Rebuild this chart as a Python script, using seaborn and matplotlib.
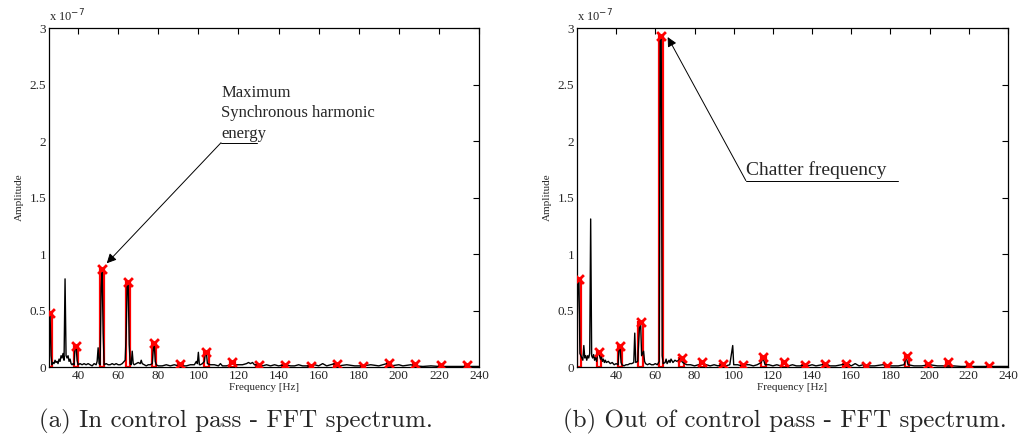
import numpy as np
import pandas as pd
import matplotlib
matplotlib.use("Agg")
import matplotlib.pyplot as plt
from matplotlib.ticker import FuncFormatter
import seaborn as sns

# ---------------- data (amplitudes in units of 1e-7) ----------------
left_freq = [25.5, 26, 26.5, 27, 27.5, 28, 28.5, 29, 29.5, 30, 30.5, 31, 31.5, 32, 32.5, 33, 33.5, 34, 34.5,
             35, 35.5, 36, 36.5, 37, 37.5, 38, 38.5, 39, 39.5, 40, 41, 42, 43, 44, 45, 46, 47, 48, 49, 49.5, 50,
             50.5, 51, 51.5, 52, 52.5, 53, 54, 55, 56, 57, 58, 59, 60, 61, 62, 63, 63.5, 64, 64.5, 65, 65.5, 66,
             66.5, 67, 67.5, 68, 69, 70, 71, 71.5, 72, 73, 74, 75, 76, 77, 77.5, 78, 78.5, 79, 80, 82, 84, 86,
             88, 90, 91, 92, 94, 96, 98, 99, 99.5, 100, 100.5, 101, 102, 103, 103.5, 104, 104.5, 106, 108, 110,
             111, 112, 114, 116, 117, 118, 120, 122, 124, 125, 126, 127, 128, 130, 132, 134, 136, 138, 140, 143,
             146, 148, 150, 152, 155, 158, 160, 162, 164, 166, 168, 170, 174, 178, 182, 186, 190, 194, 196, 200,
             202, 206, 208, 212, 216, 220, 226, 232, 240]
left_amp = [0.45, 0.48, 0.1, 0.02, 0.04, 0.03, 0.06, 0.04, 0.05, 0.03, 0.07, 0.05, 0.1, 0.08, 0.12, 0.06, 0.78,
            0.1, 0.08, 0.1, 0.05, 0.07, 0.03, 0.02, 0.03, 0.02, 0.18, 0.19, 0.06, 0.02, 0.03, 0.02, 0.03, 0.02,
            0.03, 0.02, 0.01, 0.03, 0.02, 0.05, 0.17, 0.03, 0.02, 0.7, 0.86, 0.3, 0.02, 0.03, 0.02, 0.02, 0.03,
            0.02, 0.03, 0.02, 0.02, 0.03, 0.05, 0.06, 0.3, 0.74, 0.74, 0.2, 0.03, 0.02, 0.14, 0.03, 0.02, 0.03,
            0.04, 0.03, 0.06, 0.03, 0.02, 0.01, 0.02, 0.02, 0.03, 0.15, 0.2, 0.05, 0.02, 0.01, 0.01, 0.02, 0.01,
            0.02, 0.01, 0.03, 0.01, 0.01, 0.02, 0.02, 0.05, 0.03, 0.13, 0.02, 0.02, 0.03, 0.05, 0.12, 0.13, 0.03,
            0.02, 0.02, 0.01, 0.03, 0.01, 0.01, 0.02, 0.04, 0.02, 0.02, 0.02, 0.03, 0.04, 0.03, 0.04, 0.02, 0.02,
            0.01, 0.02, 0.01, 0.02, 0.01, 0.02, 0.01, 0.01, 0.02, 0.01, 0.01, 0.02, 0.01, 0.03, 0.01, 0.02, 0.03,
            0.01, 0.02, 0.01, 0.01, 0.02, 0.01, 0.03, 0.01, 0.02, 0.01, 0.02, 0.01, 0.005, 0.01, 0.005, 0.005,
            0.005, 0.005]
left_harm_freq = [26, 39, 52, 65, 78, 91, 104, 117, 130, 143, 156, 169, 182, 195, 208, 221, 234]
left_harm_amp = [0.48, 0.19, 0.87, 0.75, 0.21, 0.03, 0.13, 0.04, 0.02, 0.02, 0.005, 0.03, 0.01, 0.035, 0.025,
                 0.02, 0.02]

right_freq = [20, 20.5, 21, 21.5, 22, 22.5, 23, 23.5, 24, 24.5, 25, 25.5, 26, 26.5, 27, 27.5, 28, 28.5, 29, 29.5,
              30, 30.5, 31, 31.5, 32, 32.5, 33, 33.5, 34, 34.5, 35, 36, 37, 38, 39, 40, 41, 41.5, 42, 42.5, 43,
              44, 45, 46, 47, 48, 49, 49.5, 50, 51, 52, 52.5, 53, 54, 54.5, 55, 56, 57, 58, 59, 60, 61, 62, 62.5,
              63, 63.5, 64, 65, 65.5, 66, 67, 67.5, 68, 69, 70, 71, 72, 73, 73.5, 74, 75, 76, 78, 80, 82, 84, 86,
              88, 90, 92, 94, 96, 98, 99.5, 100, 102, 104, 106, 108, 110, 112, 114, 115, 116, 118, 120, 122, 124,
              126, 128, 130, 132, 134, 136, 138, 140, 142, 145, 147, 149, 152, 155, 158, 160, 162, 164, 166, 168,
              172, 176, 180, 184, 187, 188, 189, 192, 196, 200, 204, 208, 212, 216, 222, 228, 234, 240]
right_amp = [0.3, 0.75, 0.78, 0.12, 0.1, 0.08, 0.06, 0.19, 0.08, 0.1, 0.06, 0.1, 0.08, 0.12, 1.31, 0.1, 0.08,
             0.11, 0.06, 0.09, 0.05, 0.12, 0.13, 0.1, 0.07, 0.09, 0.05, 0.07, 0.04, 0.06, 0.04, 0.05, 0.03, 0.04,
             0.02, 0.03, 0.02, 0.17, 0.18, 0.04, 0.02, 0.01, 0.02, 0.02, 0.03, 0.03, 0.04, 0.3, 0.04, 0.05, 0.38,
             0.39, 0.1, 0.14, 0.05, 0.03, 0.02, 0.03, 0.02, 0.02, 0.03, 0.02, 0.05, 2.9, 2.93, 0.1, 0.03, 0.04,
             0.07, 0.03, 0.06, 0.04, 0.07, 0.04, 0.06, 0.05, 0.06, 0.08, 0.05, 0.04, 0.03, 0.02, 0.02, 0.01, 0.02,
             0.03, 0.02, 0.01, 0.02, 0.01, 0.02, 0.01, 0.02, 0.19, 0.02, 0.02, 0.01, 0.02, 0.02, 0.01, 0.02, 0.04,
             0.08, 0.02, 0.02, 0.01, 0.02, 0.01, 0.03, 0.01, 0.02, 0.01, 0.01, 0.02, 0.01, 0.02, 0.01, 0.02, 0.03,
             0.01, 0.01, 0.02, 0.03, 0.01, 0.03, 0.01, 0.02, 0.01, 0.01, 0.02, 0.01, 0.01, 0.02, 0.09, 0.02, 0.01,
             0.01, 0.02, 0.01, 0.01, 0.01, 0.005, 0.005, 0.005, 0.005, 0.005]
right_harm_freq = [21, 31.4, 41.9, 52.5, 62.9, 73.4, 83.8, 94.3, 104.8, 115.2, 125.7, 136.2, 146.6, 157.1, 167.6,
                   178.1, 188.6, 199, 209.5, 220, 230.4]
right_harm_amp = [0.78, 0.13, 0.19, 0.4, 2.93, 0.08, 0.04, 0.03, 0.02, 0.09, 0.04, 0.02, 0.03, 0.03, 0.005, 0.01,
                  0.1, 0.03, 0.04, 0.02, 0.01]

x_ticks = [40, 60, 80, 100, 120, 140, 160, 180, 200, 220, 240]
y_ticks = [0, 0.5, 1, 1.5, 2, 2.5, 3]
captions = ["(a) In control pass - FFT spectrum.", "(b) Out of control pass - FFT spectrum."]
SCALE = 1e-7

# ---------------- style ----------------
sns.set_theme(style="white")
plt.rcParams["font.family"] = ["Liberation Serif", "DejaVu Serif"]
plt.rcParams["xtick.direction"] = "in"
plt.rcParams["ytick.direction"] = "in"
plt.rcParams["xtick.top"] = True
plt.rcParams["ytick.right"] = True

fig = plt.figure(figsize=(10.19, 4.44), dpi=100)
ax1 = fig.add_axes([0.0481, 0.1734, 0.422, 0.7635])
ax2 = fig.add_axes([0.5662, 0.1734, 0.423, 0.7635])

panels = [
    (ax1, left_freq, left_amp, left_harm_freq, left_harm_amp, (25.5, 240)),
    (ax2, right_freq, right_amp, right_harm_freq, right_harm_amp, (20, 240)),
]

for ax, f, a, hf, ha, xl in panels:
    ax.set_facecolor("white")
    hdf = pd.DataFrame({"f": hf, "a": np.array(ha) * SCALE})
    ax.bar(hdf["f"], hdf["a"], width=2.2, facecolor="none", edgecolor="red", linewidth=1.6, zorder=2)
    df = pd.DataFrame({"f": f, "a": np.array(a) * SCALE})
    sns.lineplot(data=df, x="f", y="a", color="black", linewidth=1.0, estimator=None, sort=False,
                 ax=ax, zorder=3)
    sns.scatterplot(data=hdf, x="f", y="a", marker="x", color="red", s=40, linewidth=2.0, ax=ax, zorder=4)
    ax.set_xlim(*xl)
    ax.set_ylim(0, 3 * SCALE)
    ax.set_xticks(x_ticks)
    ax.set_yticks([v * SCALE for v in y_ticks])
    ax.yaxis.set_major_formatter(FuncFormatter(lambda v, p: "%g" % round(v / SCALE, 3)))
    ax.tick_params(axis="both", labelsize=9.5, length=4, width=0.8, color="black", pad=2)
    for s in ax.spines.values():
        s.set_color("black")
        s.set_linewidth(0.9)
    ax.set_xlabel("Frequency [Hz]", fontsize=8, labelpad=1)
    ax.set_ylabel("Amplitude", fontsize=8, labelpad=4)
    ax.text(0.0, 1.012, r"x 10$^{-7}$", transform=ax.transAxes, fontsize=9, ha="left", va="bottom")

# annotations
ax1.text(111.3, 1.99 * SCALE, "Maximum\nSynchronous harmonic\nenergy", fontsize=12, ha="left", va="bottom",
         linespacing=1.4)
ax1.plot([111.3, 129], [1.985 * SCALE, 1.985 * SCALE], color="black", lw=0.7)
ax1.annotate("", xy=(54.3, 0.918 * SCALE), xytext=(111.3, 1.985 * SCALE),
             arrowprops=dict(arrowstyle="-|>", color="black", lw=0.7, mutation_scale=14, shrinkA=0, shrinkB=0))

ax2.text(106.2, 1.66 * SCALE, "Chatter frequency", fontsize=14, ha="left", va="bottom")
ax2.plot([106.2, 183.8], [1.65 * SCALE, 1.65 * SCALE], color="black", lw=0.7)
ax2.annotate("", xy=(66.3, 2.92 * SCALE), xytext=(106.2, 1.65 * SCALE),
             arrowprops=dict(arrowstyle="-|>", color="black", lw=0.7, mutation_scale=14, shrinkA=0, shrinkB=0))

fig.text(0.232, 0.05, captions[0], fontsize=18, ha="center", va="center", family=["cmr10", "DejaVu Serif"])
fig.text(0.770, 0.05, captions[1], fontsize=18, ha="center", va="center", family=["cmr10", "DejaVu Serif"])

fig.savefig("out.png", dpi=100, facecolor="white")
